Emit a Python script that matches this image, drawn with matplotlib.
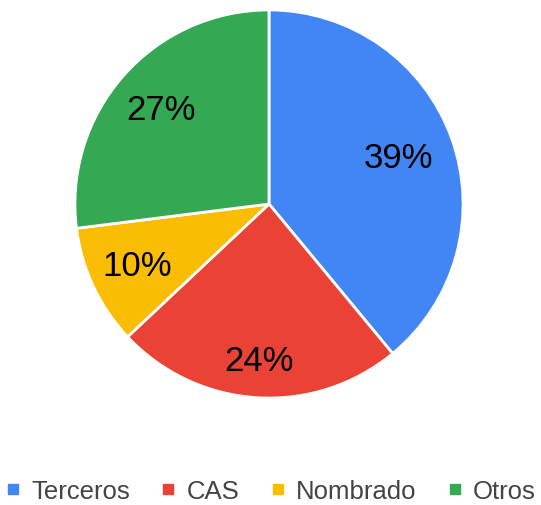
import numpy as np
import matplotlib.pyplot as plt
from matplotlib.lines import Line2D

labels = ["Terceros", "CAS", "Nombrado", "Otros"]
shares = [39, 24, 10, 27]
colors = ["#4285F4", "#EA4335", "#FBBC04", "#34A853"]
# radial position of each percentage label (fraction of radius)
label_r = [0.71, 0.81, 0.75, 0.74]

plt.rcParams['font.family'] = ['Liberation Sans', 'DejaVu Sans']

W, H = 541, 506
fig = plt.figure(figsize=(W / 100, H / 100), dpi=100)

cx, cy, r = 269, 205, 196
ax = fig.add_axes([(cx - r) / W, (H - cy - r) / H, 2 * r / W, 2 * r / H])
wedges, _ = ax.pie(shares, colors=colors, startangle=90, counterclock=False,
                   wedgeprops=dict(edgecolor='white', linewidth=2))
for w, val, d in zip(wedges, shares, label_r):
    ang = np.deg2rad((w.theta1 + w.theta2) / 2)
    ax.text(d * np.cos(ang), d * np.sin(ang), f"{val}%", ha='center',
            va='center', fontsize=25, color='black')
ax.set_xlim(-1.01, 1.01)
ax.set_ylim(-1.01, 1.01)
ax.set_aspect('equal')
ax.axis('off')

handles = [Line2D([], [], marker='s', linestyle='none', markersize=7,
                  markerfacecolor=c, markeredgecolor=c) for c in colors]
fig.legend(handles, labels, loc='center', bbox_to_anchor=(0.5, 1 - 492 / H),
           ncol=4, frameon=False, fontsize=18.5, handlelength=0.6,
           handletextpad=0.4, columnspacing=1.2, labelcolor='#444444',
           borderpad=0, borderaxespad=0)

fig.savefig("out.png", dpi=100)
